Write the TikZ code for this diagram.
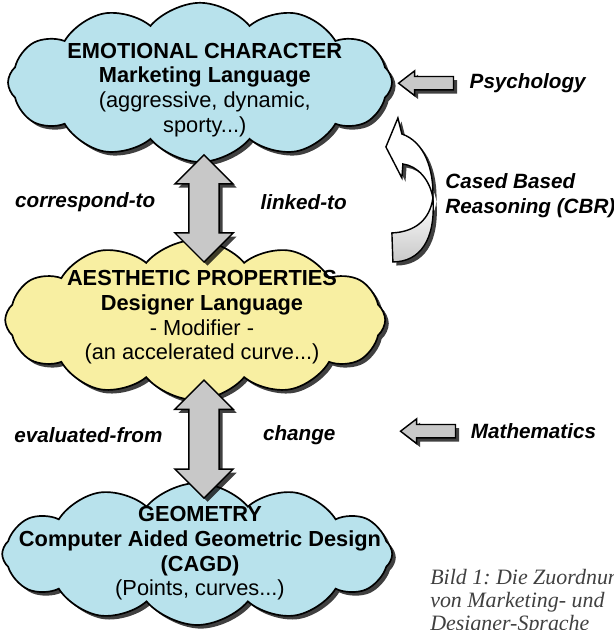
\documentclass[tikz,border=0pt]{standalone}
\usepackage{fontspec}
\setmainfont{Liberation Sans}
\newfontfamily\capfont{Liberation Serif}
\usetikzlibrary{positioning}
\usetikzlibrary{shapes.symbols}
\usetikzlibrary{shapes.arrows}
\usetikzlibrary{shadows}
\definecolor{sky}{HTML}{B8E2EC}
\definecolor{sand}{HTML}{F8EFA2}
\definecolor{steel}{HTML}{C8C8C8}
\tikzset{
  dropped/.style={drop shadow={shadow xshift=.09cm, shadow yshift=-.09cm, fill=black, opacity=.75}},
}
\frenchspacing

\begin{document}
\begin{tikzpicture}[
  puff/.style={cloud, cloud puffs=12, cloud puff arc=100, cloud ignores aspect, draw, line width=1.2pt, inner sep=0pt, dropped},
  words/.style={align=center, font=\fontsize{15.5}{17.7}\selectfont},
  link/.style={double arrow, draw, line width=1pt, fill=steel, rotate=90, inner xsep=0pt, inner ysep=.36cm, double arrow head extend=.35cm, double arrow tip angle=90, dropped},
  feed/.style={single arrow, draw, line width=1pt, fill=steel, shape border rotate=180, inner xsep=0pt, inner ysep=.15cm, single arrow head extend=.14cm, single arrow tip angle=75, minimum height=1.375cm, dropped},
  rel/.style={font=\fontsize{14.7}{17.7}\selectfont\bfseries\itshape, inner sep=0pt}
]
\useasboundingbox (0,0) rectangle (15.35,-15.75);

% Clouds
\node[puff, fill=sky, minimum width=9.6cm, minimum height=3.98cm] (emotion) at (5.0,-2.06) {};
\node[words] (emotiontext) at (5.12,-2.25) {\textbf{EMOTIONAL CHARACTER}\\\textbf{Marketing Language}\\(aggressive, dynamic,\\sporty...)};
\node[puff, fill=sand, minimum width=9.5cm, minimum height=4.0cm] (aesthetic) at (4.88,-8.0) {};
\node[words] (aesthetictext) at (5.05,-7.93) {\textbf{AESTHETIC PROPERTIES}\\\textbf{Designer Language}\\- Modifier -\\(an accelerated curve...)};
\node[puff, fill=sky, minimum width=9.75cm, minimum height=3.55cm] (geometry) at (4.93,-13.85) {};
\node[words] (geometrytext) at (5.0,-13.83) {\textbf{GEOMETRY}\\\textbf{Computer Aided Geometric Design}\\\textbf{(CAGD)}\\(Points, curves...)};

% Links between the levels
\node[link, minimum height=2.68cm] (link0) at (5.1,-5.21) {};
\node[link, minimum height=2.95cm] (link1) at (5.1,-10.98) {};
\node[rel] (corr) at (2.13,-5.05) {correspond-to};
\node[rel] (linked) at (7.59,-5.05) {linked-to};
\node[rel] (evalfrom) at (2.21,-10.88) {evaluated-from};
\node[rel] (change) at (7.48,-10.88) {change};

% Inputs from the right
\node[feed] (psyarrow) at (10.76,-2.08) {};
\node[rel, right=.38cm of psyarrow] (psych) {Psychology};
\node[feed] (matharrow) at (10.81,-10.78) {};
\node[rel, right=.36cm of matharrow] (math) {Mathematics};

% Case based reasoning loop
\begin{scope}[x=.025cm, y=-.025cm]
\draw[line width=1pt, fill=white, dropped] (433,198) .. controls (434,170) and (425,142) .. (402,134) -- (398,118) -- (386,147) -- (402,178) -- (403,164) .. controls (418,166) and (430,180) .. (433,198) -- cycle;
\draw[line width=1pt, top color=white, bottom color=steel, dropped] (433,198) .. controls (430,220) and (415,232) .. (392,233) -- (393,262) .. controls (420,262) and (436,240) .. (433,198) -- cycle;
\end{scope}
\node[rel, align=left, anchor=west] (cbr) at (11.13,-4.9) {Cased Based\\Reasoning (CBR)};

% Caption
\node[font=\fontsize{15.6}{16.4}\capfont\itshape, text=black!75, align=left, anchor=north west, inner sep=0pt] (caption) at (10.75,-14.22) {Bild 1: Die Zuordnung\\von Marketing- und\\Designer-Sprache};
\end{tikzpicture}
\end{document}
